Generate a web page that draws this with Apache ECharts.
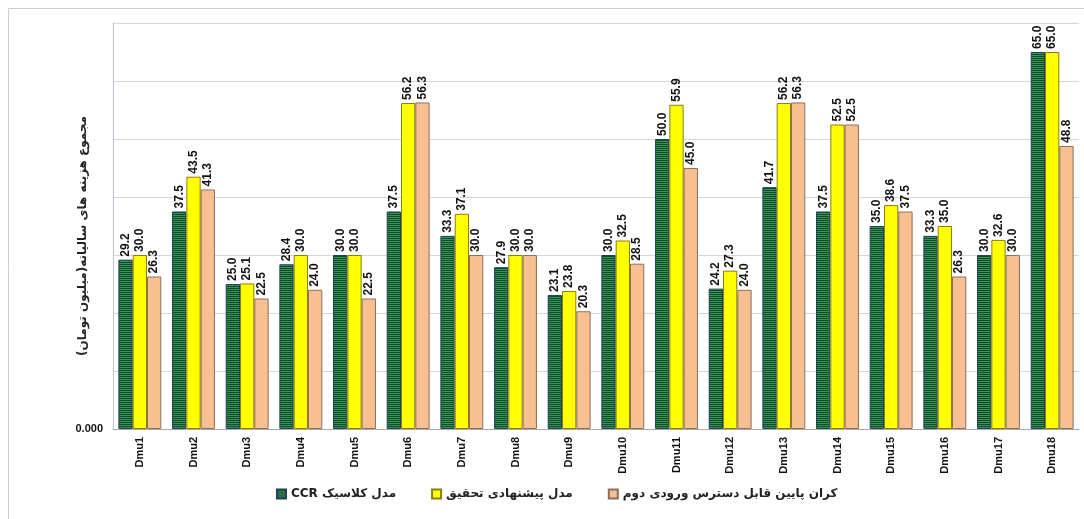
<!DOCTYPE html>
<html>
<head>
<meta charset="utf-8">
<script src="https://cdn.jsdelivr.net/npm/echarts@6/dist/echarts.min.js"></script>
<style>
  html, body { margin: 0; padding: 0; background: #fff; }
  #chart { width: 1084px; height: 519px; }
</style>
</head>
<body>
<div id="chart"></div>
<script>
const categories = ['Dmu1', 'Dmu2', 'Dmu3', 'Dmu4', 'Dmu5', 'Dmu6', 'Dmu7', 'Dmu8', 'Dmu9',
    'Dmu10', 'Dmu11', 'Dmu12', 'Dmu13', 'Dmu14', 'Dmu15', 'Dmu16', 'Dmu17', 'Dmu18'];

// مدل کلاسیک CCR
const ccrValues = [29.2, 37.5, 25.0, 28.4, 30.0, 37.5, 33.3, 27.9, 23.1,
    30.0, 50.0, 24.2, 41.7, 37.5, 35.0, 33.3, 30.0, 65.0];
// مدل پیشنهادی تحقیق
const proposedValues = [30.0, 43.5, 25.1, 30.0, 30.0, 56.2, 37.1, 30.0, 23.8,
    32.5, 55.9, 27.3, 56.2, 52.5, 38.6, 35.0, 32.6, 65.0];
// کران پایین قابل دسترس ورودی دوم
const lowerBoundValues = [26.3, 41.3, 22.5, 24.0, 22.5, 56.3, 30.0, 30.0, 20.3,
    28.5, 45.0, 24.0, 56.3, 52.5, 37.5, 26.3, 30.0, 48.8];

const seriesNames = ['مدل کلاسیک CCR', 'مدل پیشنهادی تحقیق', 'کران پایین قابل دسترس ورودی دوم'];
const yTitle = 'مجموع هزینه های سالیانه(میلیون تومان)';

// wrap in RTL embedding so the canvas lays the persian text out right to left
const rtl = (s) => '\u202B' + s + '\u202C';

// striped green fill like the excel bars
const stripe = document.createElement('canvas');
stripe.width = 4;
stripe.height = 2;
const sctx = stripe.getContext('2d');
sctx.fillStyle = '#0c4f27';
sctx.fillRect(0, 0, 4, 1);
sctx.fillStyle = '#3f8f5a';
sctx.fillRect(0, 1, 4, 1);

const chart = echarts.init(document.getElementById('chart'));

const labelStyle = {
    show: true,
    position: 'top',
    rotate: 90,
    align: 'left',
    verticalAlign: 'middle',
    distance: 3,
    color: '#111',
    fontWeight: 'bold',
    fontSize: 12,
    fontFamily: 'Liberation Sans',
    formatter: (p) => p.value.toFixed(1),
};

const makeSeries = (name, values, color, border) => ({
    name,
    type: 'bar',
    data: values,
    barWidth: 14.3,
    barGap: '0%',
    itemStyle: {color, borderColor: border, borderWidth: 1},
    label: labelStyle,
    emphasis: {disabled: true},
});

const option = {
    animation: false,
    graphic: [
        {
            type: 'rect',
            shape: {x: 8.5, y: 8.5, width: 1200, height: 600},
            style: {fill: 'none', stroke: '#cfcfcf', lineWidth: 1},
            silent: true,
        },
    ],
    grid: {left: 113, right: 5, top: 23, bottom: 90},
    legend: {
        left: 271,
        top: 483,
        itemWidth: 9,
        itemHeight: 9,
        itemGap: 35,
        icon: 'rect',
        textStyle: {
            fontSize: 12,
            fontWeight: 'bold',
            color: '#222',
            fontFamily: 'DejaVu Sans',
        },
        formatter: (name) => rtl(name),
    },
    xAxis: {
        type: 'category',
        data: categories,
        axisLine: {lineStyle: {color: '#a8a8a8'}},
        axisTick: {length: 5, lineStyle: {color: '#a8a8a8'}},
        axisLabel: {
            rotate: 90,
            color: '#111',
            fontWeight: 'bold',
            fontSize: 11,
            fontFamily: 'Liberation Sans',
            margin: 8,
        },
    },
    yAxis: {
        type: 'value',
        min: 0,
        max: 70,
        interval: 10,
        name: rtl(yTitle),
        nameLocation: 'middle',
        nameGap: 24,
        nameMoveOverlap: false,
        nameRotate: 90,
        nameTextStyle: {
            fontSize: 12,
            fontWeight: 'bold',
            color: '#222',
            fontFamily: 'DejaVu Sans',
            padding: [0, 20, 0, 0],
        },
        axisLine: {show: true, lineStyle: {color: '#c0c0dc'}},
        axisTick: {show: false},
        splitLine: {lineStyle: {color: '#d6d6d6'}},
        axisLabel: {
            color: '#111',
            fontWeight: 'bold',
            fontSize: 11,
            fontFamily: 'Liberation Sans',
            margin: 10,
            formatter: (v) => (v === 0 ? '0.000' : ''),
        },
    },
    series: [
        makeSeries(seriesNames[0], ccrValues, {image: stripe, repeat: 'repeat'}, '#20415c'),
        makeSeries(seriesNames[1], proposedValues, '#ffff00', '#8a7d10'),
        makeSeries(seriesNames[2], lowerBoundValues, '#f8bf90', '#8a7060'),
    ],
};

chart.setOption(option);
</script>
</body>
</html>
